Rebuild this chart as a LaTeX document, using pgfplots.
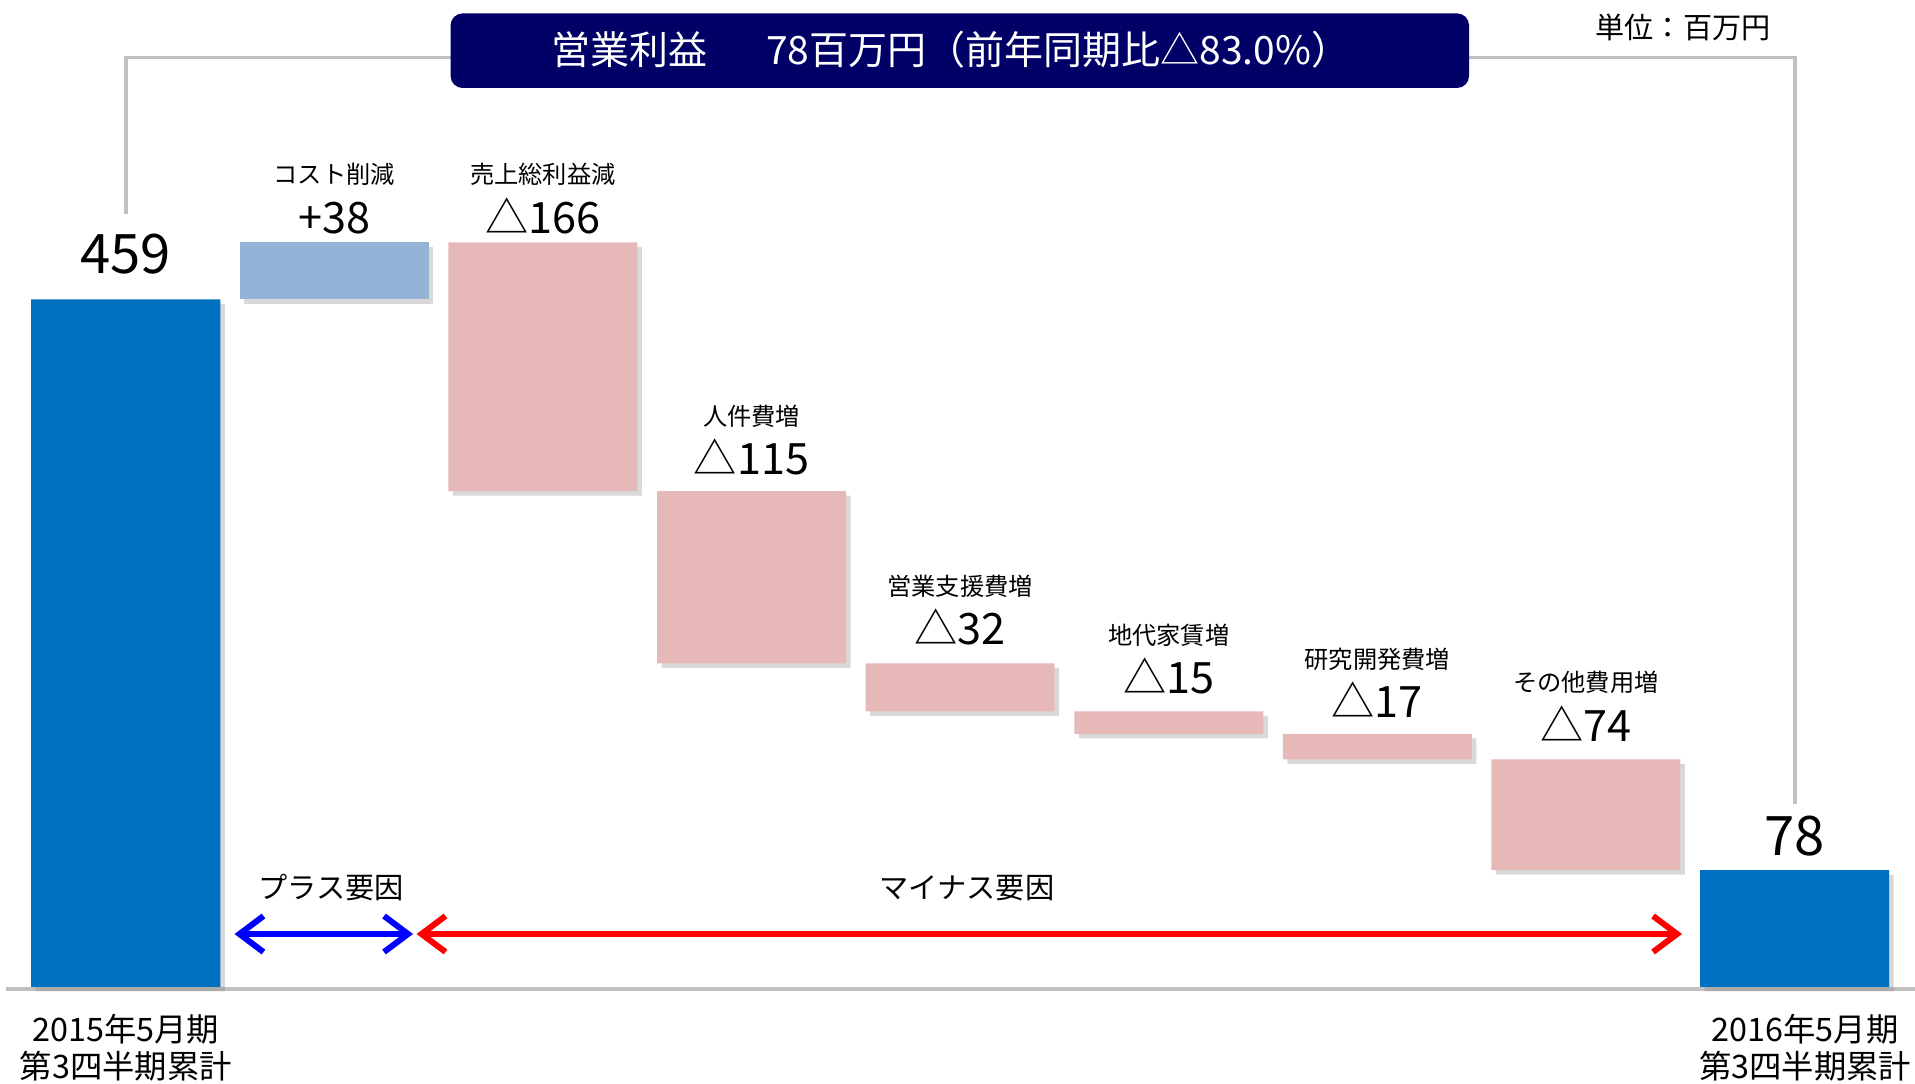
\documentclass[border=0pt]{standalone}
\usepackage{pgfplots}
\pgfplotsset{compat=1.18}
\usepackage{fontspec}
\setmainfont{Noto Sans CJK JP}
\usetikzlibrary{arrows.meta,shadows}
\definecolor{cblue}{HTML}{0070C0}
\definecolor{clblue}{HTML}{95B3D7}
\definecolor{cpink}{HTML}{E6B9B8}
\definecolor{cnavy}{HTML}{000066}
\definecolor{cgray}{HTML}{C0C0C0}
\newcommand{\fs}[1]{\fontsize{#1}{#1}\selectfont}
\begin{document}
\begin{tikzpicture}
\useasboundingbox (0,0) rectangle (191.5mm,108.3mm);
\begin{scope}[yshift=108.3mm, x=0.1mm, y=-0.1mm]
  \draw[cgray, line width=0.35mm] (6,989) -- (1915,989);
  \draw[cgray, line width=0.35mm] (125.8,214) -- (125.8,57.5) -- (460,57.5);
  \draw[cgray, line width=0.35mm] (1460,57.5) -- (1795,57.5) -- (1795,804);
  \fill[cnavy, rounded corners=1.2mm] (450.6,13.4) rectangle (1469,88);
  \node[text=white, font=\fs{11.1}] at (951,50) {営業利益\hspace{1.5em}78百万円（前年同期比△83.0\%）};
  \node[font=\fs{8.3}] at (1683,27) {単位：百万円};
\end{scope}
\begin{axis}[at={(0,0)}, anchor=south west, width=191.5mm, height=108.3mm,
  scale only axis, xmin=-0.6028, xmax=8.5775, ymin=-64.09, ymax=658.88,
  hide axis, clip=false, ybar stacked, bar width=18.9mm]
\addplot[draw=none, fill=none] coordinates {(0,0) (1,459) (2,331) (3,216) (4,184) (5,169) (6,152) (7,78) (8,0)};
\addplot[draw=none, fill=cblue, drop shadow={shadow xshift=0.45mm, shadow yshift=-0.45mm, opacity=0.3}] coordinates {(0,459) (1,0) (2,0) (3,0) (4,0) (5,0) (6,0) (7,0) (8,78)};
\addplot[draw=none, fill=clblue, drop shadow={shadow xshift=0.45mm, shadow yshift=-0.45mm, opacity=0.3}] coordinates {(0,0) (1,38) (2,0) (3,0) (4,0) (5,0) (6,0) (7,0) (8,0)};
\addplot[draw=none, fill=cpink, drop shadow={shadow xshift=0.45mm, shadow yshift=-0.45mm, opacity=0.3}] coordinates {(0,0) (1,0) (2,166) (3,115) (4,32) (5,15) (6,17) (7,74) (8,0)};
% value labels
\node[anchor=base, font=\fs{15.5}] at (axis cs:0,476.2) {459};
\node[anchor=base, font=\fs{15.5}] at (axis cs:8,88.1) {78};
\node[anchor=base, font=\fs{12.3}] at (axis cs:1,503.3) {+38};
\node[anchor=base, font=\fs{12.3}] at (axis cs:2,503.3) {△166};
\node[anchor=base, font=\fs{12.3}] at (axis cs:3,341.8) {△115};
\node[anchor=base, font=\fs{12.3}] at (axis cs:4,228.3) {△32};
\node[anchor=base, font=\fs{12.3}] at (axis cs:5,195.6) {△15};
\node[anchor=base, font=\fs{12.3}] at (axis cs:6,179.6) {△17};
\node[anchor=base, font=\fs{12.3}] at (axis cs:7,164.2) {△74};
% category labels
\node[anchor=base, font=\fs{6.9}] at (axis cs:1,536.5) {コスト削減};
\node[anchor=base, font=\fs{6.9}] at (axis cs:2,536.5) {売上総利益減};
\node[anchor=base, font=\fs{6.9}] at (axis cs:3,375) {人件費増};
\node[anchor=base, font=\fs{6.9}] at (axis cs:4,261.5) {営業支援費増};
\node[anchor=base, font=\fs{6.9}] at (axis cs:5,228.8) {地代家賃増};
\node[anchor=base, font=\fs{6.9}] at (axis cs:6,212.8) {研究開発費増};
\node[anchor=base, font=\fs{6.9}] at (axis cs:7,197.4) {その他費用増};
\end{axis}
\begin{scope}[yshift=108.3mm, x=0.1mm, y=-0.1mm]
  \draw[blue, line width=0.6mm, line cap=round, {Straight Barb[length=2.4mm,width=3.6mm]}-{Straight Barb[length=2.4mm,width=3.6mm]}] (234.5,934) -- (413,934);
  \draw[red, line width=0.6mm, line cap=round, {Straight Barb[length=2.4mm,width=3.6mm]}-{Straight Barb[length=2.4mm,width=3.6mm]}] (416.5,934) -- (1682,934);
  \node[font=\fs{8.3}] at (331,888) {プラス要因};
  \node[font=\fs{8.3}] at (967,888) {マイナス要因};
  \node[font=\fs{9.2}] at (125.8,1029.5) {2015年5月期};
  \node[font=\fs{9.2}] at (125.8,1066) {第3四半期累計};
  \node[font=\fs{9.2}] at (1805,1029.5) {2016年5月期};
  \node[font=\fs{9.2}] at (1805,1066) {第3四半期累計};
\end{scope}
\end{tikzpicture}
\end{document}
